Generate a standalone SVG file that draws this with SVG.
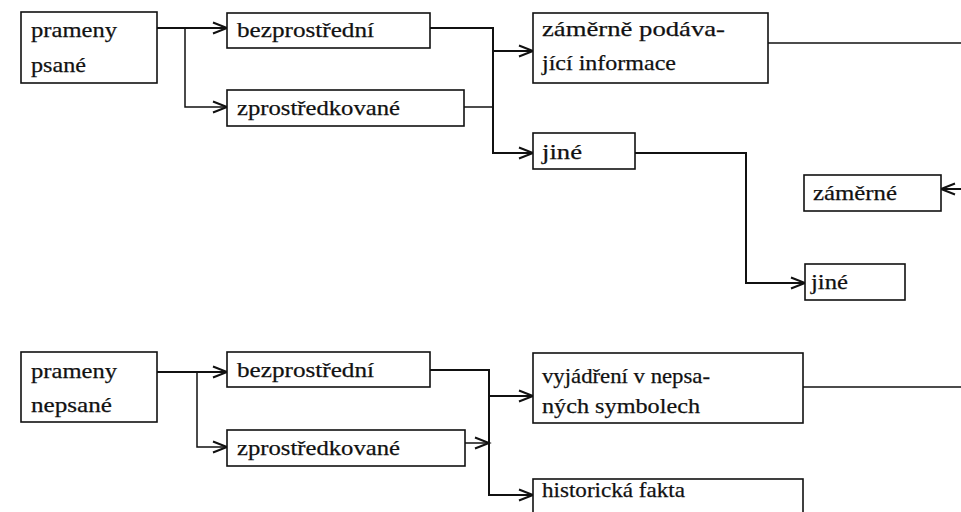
<svg xmlns="http://www.w3.org/2000/svg" width="961" height="512" viewBox="0 0 961 512">
<style>
.box{fill:#fff;stroke:#111;stroke-width:1.6}
.t{font-family:"Liberation Serif","DejaVu Serif",serif;font-size:22px;fill:#111;stroke:#111;stroke-width:0.25}
.c{fill:none;stroke:#111;stroke-width:2}
.c2{fill:none;stroke:#111;stroke-width:1.5}
</style>
<defs>
<marker id="ar" markerUnits="userSpaceOnUse" markerWidth="18" markerHeight="14" refX="15" refY="7" orient="auto">
<path d="M1,1.5 L15,7 L1,12.5" fill="none" stroke="#111" stroke-width="2"/>
</marker>
</defs>
<rect width="961" height="512" fill="#fff"/>
<g id="connectors">
<path class="c" d="M157,28 H227" marker-end="url(#ar)"/>
<path class="c2" d="M185,28 V107 H227" marker-end="url(#ar)"/>
<path class="c" d="M430,28 H493 V153 H533" marker-end="url(#ar)"/>
<path class="c" d="M493,51 H533" marker-end="url(#ar)"/>
<path class="c2" d="M464,107 H493"/>
<path class="c2" d="M768,43 H961"/>
<path class="c" d="M635,153 H746 V283 H805" marker-end="url(#ar)"/>
<path class="c" d="M961,189 H941" marker-end="url(#ar)"/>
<path class="c" d="M157,372 H227" marker-end="url(#ar)"/>
<path class="c2" d="M197,372 V447 H227" marker-end="url(#ar)"/>
<path class="c" d="M430,370 H489 V495 H533" marker-end="url(#ar)"/>
<path class="c" d="M489,396 H533" marker-end="url(#ar)"/>
<path class="c2" d="M465,443 H489" marker-end="url(#ar)"/>
<path class="c2" d="M803,387 H961"/>
</g>
<g id="n1"><rect class="box" x="21" y="12" width="136" height="71"/>
<text class="t" x="31" y="37" textLength="86" lengthAdjust="spacingAndGlyphs">prameny</text>
<text class="t" x="31" y="72" textLength="55" lengthAdjust="spacingAndGlyphs">psané</text></g>
<g id="n2"><rect class="box" x="227" y="13" width="203" height="35"/>
<text class="t" x="237" y="37" textLength="137" lengthAdjust="spacingAndGlyphs">bezprostřední</text></g>
<g id="n3"><rect class="box" x="227" y="90" width="237" height="36"/>
<text class="t" x="237" y="115" textLength="163" lengthAdjust="spacingAndGlyphs">zprostředkované</text></g>
<g id="n4"><rect class="box" x="533" y="13" width="235" height="70"/>
<text class="t" x="542" y="36" textLength="183" lengthAdjust="spacingAndGlyphs">záměrně podáva-</text>
<text class="t" x="542" y="70" textLength="134" lengthAdjust="spacingAndGlyphs">jící informace</text></g>
<g id="n5"><rect class="box" x="533" y="133" width="102" height="36"/>
<text class="t" x="542" y="159" textLength="40" lengthAdjust="spacingAndGlyphs">jiné</text></g>
<g id="n6"><rect class="box" x="804" y="175" width="137" height="36"/>
<text class="t" x="813" y="200" textLength="84" lengthAdjust="spacingAndGlyphs">záměrné</text></g>
<g id="n7"><rect class="box" x="805" y="264" width="100" height="36"/>
<text class="t" x="811" y="289" textLength="37" lengthAdjust="spacingAndGlyphs">jiné</text></g>
<g id="n8"><rect class="box" x="21" y="352" width="136" height="70"/>
<text class="t" x="31" y="378" textLength="86" lengthAdjust="spacingAndGlyphs">prameny</text>
<text class="t" x="31" y="412" textLength="81" lengthAdjust="spacingAndGlyphs">nepsané</text></g>
<g id="n9"><rect class="box" x="227" y="352" width="203" height="35"/>
<text class="t" x="237" y="377" textLength="137" lengthAdjust="spacingAndGlyphs">bezprostřední</text></g>
<g id="n10"><rect class="box" x="227" y="430" width="238" height="36"/>
<text class="t" x="237" y="455" textLength="163" lengthAdjust="spacingAndGlyphs">zprostředkované</text></g>
<g id="n11"><rect class="box" x="533" y="353" width="270" height="70"/>
<text class="t" x="542" y="383" textLength="168" lengthAdjust="spacingAndGlyphs">vyjádření v nepsa-</text>
<text class="t" x="542" y="413" textLength="158" lengthAdjust="spacingAndGlyphs">ných symbolech</text></g>
<g id="n12"><rect class="box" x="533" y="479" width="270" height="50"/>
<text class="t" x="542" y="497" textLength="143" lengthAdjust="spacingAndGlyphs">historická fakta</text></g>
</svg>
